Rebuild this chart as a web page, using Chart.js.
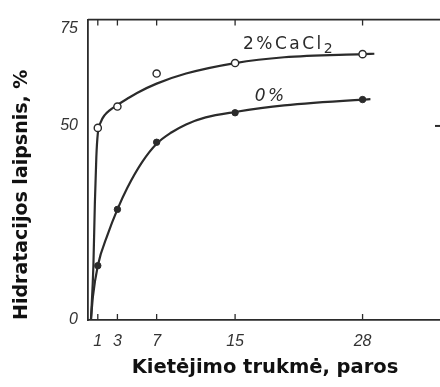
<!DOCTYPE html>
<html>
<head>
<meta charset="utf-8">
<script src="https://cdn.jsdelivr.net/npm/chart.js@4/dist/chart.umd.min.js"></script>
<style>
  html, body { margin: 0; padding: 0; background: #fff; overflow: hidden; }
  #wrap { width: 450px; height: 387px; }
</style>
</head>
<body>
<div id="wrap"><canvas id="c" width="450" height="387"></canvas></div>
<script>
// ---- data ----
const days = [1, 3, 7, 15, 28];
const cacl2Points = [49.5, 55, 63.5, 66.2, 68.5];
const zeroPoints = [14, 28.5, 45.8, 53.4, 56.8];

// fitted curves as drawn in the figure
const cacl2CurveX = [0.3, 0.55, 0.7, 0.85, 1, 1.3, 1.7, 2.2, 3, 4, 5, 7, 10, 15, 20, 28, 29.2];
const cacl2CurveY = [0, 14, 30, 42, 48, 51, 52.8, 54, 55.4, 57, 58.5, 60.9, 63.5, 66.2, 67.7, 68.5, 68.6];
const zeroCurveX = [0.3, 0.5, 1, 2, 3, 4, 5.5, 7, 8.5, 10, 12, 15, 20, 28, 28.8];
const zeroCurveY = [0, 6, 14, 22, 28.5, 34, 40.6, 45.4, 48.3, 50.4, 52.2, 53.6, 55.3, 56.8, 56.9];

const xTicks = [1, 3, 7, 15, 28];
const yTicks = [0, 50, 75];
const rightTicks = [50];

const seriesLabels = ['2%CaCl', '0%'];
const labelAnchors = { cacl2: [15.8, 71.5], zero: [17.0, 58.2] };

const xTitle = 'Kietėjimo trukmė, paros';
const yTitle = 'Hidratacijos laipsnis, %';

const INK = '#2b2b2b';

const toXY = (xs, ys) => xs.map((x, i) => ({ x: x, y: ys[i] }));

const framePlugin = {
  id: 'frame',
  beforeDatasetsDraw(chart) {
    const { ctx, chartArea: a, scales } = chart;
    ctx.save();
    ctx.strokeStyle = INK;
    ctx.lineWidth = 1.6;
    ctx.beginPath();
    ctx.moveTo(a.left, a.top);
    ctx.lineTo(a.right + 10, a.top);
    ctx.stroke();
    ctx.lineWidth = 1.3;
    xTicks.forEach(v => {
      const px = scales.x.getPixelForValue(v);
      ctx.beginPath();
      ctx.moveTo(px, a.bottom); ctx.lineTo(px, a.bottom - 6);
      ctx.moveTo(px, a.top); ctx.lineTo(px, a.top + 6);
      ctx.stroke();
    });
    ctx.lineWidth = 2;
    rightTicks.forEach(v => {
      const py = scales.y.getPixelForValue(v);
      ctx.beginPath();
      ctx.moveTo(a.right, py); ctx.lineTo(a.right - 7, py);
      ctx.stroke();
    });
    ctx.restore();
  },
  afterDatasetsDraw(chart) {
    const { ctx, scales } = chart;
    ctx.save();
    ctx.fillStyle = INK;
    ctx.textBaseline = 'alphabetic';
    ctx.textAlign = 'left';
    ctx.font = '17px "DejaVu Sans"';
    try { ctx.letterSpacing = '2.5px'; } catch (e) {}
    let px = scales.x.getPixelForValue(labelAnchors.cacl2[0]);
    let py = scales.y.getPixelForValue(labelAnchors.cacl2[1]) + 7;
    ctx.fillText(seriesLabels[0], px, py);
    const w = ctx.measureText(seriesLabels[0]).width;
    ctx.font = '14px "DejaVu Sans"';
    ctx.fillText('2', px + w, py + 4);
    ctx.font = 'italic 17px "DejaVu Sans"';
    px = scales.x.getPixelForValue(labelAnchors.zero[0]);
    py = scales.y.getPixelForValue(labelAnchors.zero[1]) + 7;
    ctx.fillText(seriesLabels[1], px, py);
    ctx.restore();
  }
};

new Chart(document.getElementById('c'), {
  type: 'scatter',
  data: {
    datasets: [
      { label: '2% CaCl2 (taškai)', data: toXY(days, cacl2Points), showLine: false,
        pointStyle: 'circle', pointRadius: 3.6, pointBackgroundColor: '#fff',
        pointBorderColor: INK, pointBorderWidth: 1.4, order: 0 },
      { label: '0% (taškai)', data: toXY(days, zeroPoints), showLine: false,
        pointStyle: 'circle', pointRadius: 3.2, pointBackgroundColor: INK,
        pointBorderColor: INK, pointBorderWidth: 1, order: 0 },
      { label: '2% CaCl2', data: toXY(cacl2CurveX, cacl2CurveY), showLine: true,
        pointRadius: 0, borderColor: INK, borderWidth: 2.2,
        cubicInterpolationMode: 'monotone', order: 1 },
      { label: '0%', data: toXY(zeroCurveX, zeroCurveY), showLine: true,
        pointRadius: 0, borderColor: INK, borderWidth: 2.2,
        cubicInterpolationMode: 'monotone', order: 1 }
    ]
  },
  options: {
    responsive: false,
    animation: false,
    devicePixelRatio: 1,
    layout: { padding: { top: 18, right: 8, left: 0, bottom: 0 } },
    plugins: { legend: { display: false }, tooltip: { enabled: false } },
    scales: {
      x: {
        type: 'linear', min: 0, max: 36.1,
        afterBuildTicks: s => { s.ticks = xTicks.map(v => ({ value: v })); },
        afterFit: s => { s.height = 67; },
        grid: { display: true, drawOnChartArea: false, drawTicks: false },
        border: { display: true, color: INK, width: 1.8 },
        ticks: { padding: 12, color: '#333', maxRotation: 0, autoSkip: false,
          font: { family: 'Liberation Sans', style: 'italic', size: 16 },
          callback: v => String(v) },
        title: { display: true, text: xTitle, color: '#111',
          font: { family: 'DejaVu Sans', weight: 'bold', size: 19.5 },
          padding: { top: 0, bottom: 7 } }
      },
      y: {
        type: 'linear', min: 0, max: 77.4,
        afterBuildTicks: s => { s.ticks = yTicks.map(v => ({ value: v })); },
        afterFit: s => { s.width = 88; },
        grid: { display: true, drawOnChartArea: false, drawTicks: false },
        border: { display: true, color: INK, width: 1.8 },
        ticks: { padding: 10, color: '#333', autoSkip: false,
          font: { family: 'Liberation Sans', style: 'italic', size: 16 },
          callback: v => String(v) },
        title: { display: true, text: yTitle, color: '#111', align: 'start',
          font: { family: 'DejaVu Sans', weight: 'bold', size: 19 },
          padding: { top: 11, bottom: 0 } }
      }
    }
  },
  plugins: [framePlugin]
});
</script>
</body>
</html>
